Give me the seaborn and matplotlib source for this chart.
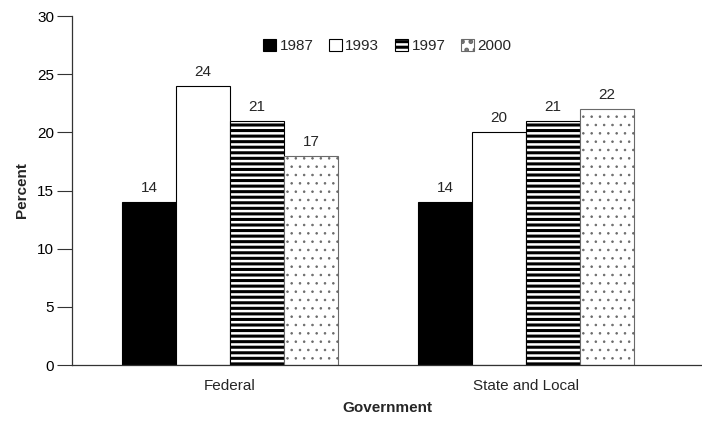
import pandas as pd
import seaborn as sns
import matplotlib.pyplot as plt
from matplotlib.patches import Patch

# Data
groups = ["Federal", "State and Local"]
years = ["1987", "1993", "1997", "2000"]
federal = [14, 24, 21, 18]
state_local = [14, 20, 21, 22]
# printed labels (the Federal 2000 bar is labelled 17 in the source)
federal_labels = ["14", "24", "21", "17"]
state_labels = ["14", "20", "21", "22"]

sns.set_style("ticks")
plt.rcParams["font.family"] = ["Liberation Sans", "DejaVu Sans"]
plt.rcParams["hatch.linewidth"] = 2.2

rows = []
for g, vals in zip(groups, [federal, state_local]):
    for y, v in zip(years, vals):
        rows.append({"Government": g, "Year": y, "Percent": v})
df = pd.DataFrame(rows)

fig = plt.figure(figsize=(7.02, 4.22), dpi=100)
ax = fig.add_axes([0.1026, 0.135, 0.8974, 0.827])

fills = ["black", "white", "white", "white"]
hatches = [None, None, "---", ".."]
speckle = "#6a6a6a"


def thin_hatch(p):
    # the speckled pattern wants a thinner hatch than the stripes
    if hasattr(p, "set_hatch_linewidth"):
        p.set_hatch_linewidth(0.6)
    elif hasattr(p, "_hatch_linewidth"):
        p._hatch_linewidth = 0.6


sns.barplot(data=df, x="Government", y="Percent", hue="Year",
            palette=fills, edgecolor="black", linewidth=0.8,
            width=0.73, saturation=1, ax=ax, legend=False)

for cont, h in zip(ax.containers, hatches):
    for bar in cont:
        if h:
            bar.set_hatch(h)
        if h == "..":
            bar.set_edgecolor(speckle)
            thin_hatch(bar)

for i, cont in enumerate(ax.containers):
    labs = [federal_labels[i], state_labels[i]]
    ax.bar_label(cont, labels=labs, padding=5, fontsize=11)

ax.set_ylim(0, 30)
ax.set_yticks([0, 5, 10, 15, 20, 25, 30])
ax.set_xlim(-0.534, 1.595)
ax.tick_params(axis="y", length=11, width=0.8, labelsize=11, colors="#333333",
               labelcolor="black", pad=2)
ax.tick_params(axis="x", length=0, labelsize=11, pad=10)
ax.set_ylabel("Percent", fontsize=11, fontweight="bold", labelpad=6)
ax.set_xlabel("Government", fontsize=11, fontweight="bold", labelpad=6)
sns.despine(ax=ax)
for s in ["left", "bottom"]:
    ax.spines[s].set_color("#333333")
    ax.spines[s].set_linewidth(0.9)

handles = []
for f, h in zip(fills, hatches):
    p = Patch(facecolor=f, edgecolor=speckle if h == ".." else "black",
              hatch=h, linewidth=0.8)
    if h == "..":
        thin_hatch(p)
    handles.append(p)
ax.legend(handles, years, loc="upper center", bbox_to_anchor=(0.5, 0.975),
          ncol=4, frameon=False, fontsize=11, handlelength=0.9, handleheight=0.9,
          handletextpad=0.2, columnspacing=1.0)

fig.savefig("out.png", dpi=100)
